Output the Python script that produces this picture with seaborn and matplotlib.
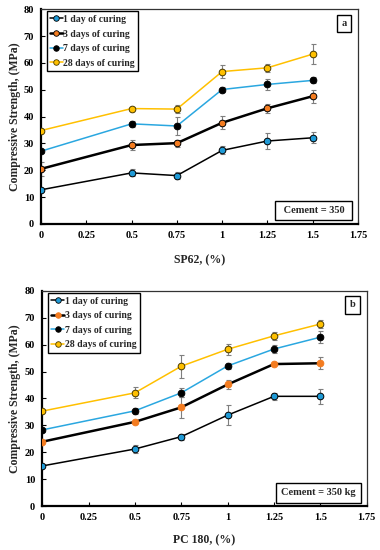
import matplotlib
matplotlib.use("Agg")
import matplotlib.pyplot as plt
import seaborn as sns
import pandas as pd
from matplotlib.lines import Line2D

# ---------------- data ----------------
dosage = [0, 0.5, 0.75, 1, 1.25, 1.5]
series_labels = ["1 day of curing", "3 days of curing", "7 days of curing", "28 days of curing"]

# panel a : SP62
a_1d = [12.7, 19.0, 18.0, 27.4, 30.9, 32.1]
a_3d = [20.5, 29.4, 30.1, 37.7, 43.1, 47.6]
a_7d = [27.1, 37.3, 36.5, 50.1, 52.0, 53.5]
a_28d = [34.8, 43.0, 42.8, 56.8, 58.2, 63.3]
a_e1 = [0.4, 1.3, 1.3, 1.5, 3.1, 2.1]
a_e3 = [2.5, 1.8, 1.3, 2.4, 1.6, 2.4]
a_e7 = [0.5, 1.2, 3.3, 1.0, 2.1, 1.1]
a_e28 = [0.5, 0.6, 1.6, 2.3, 1.5, 3.6]

# panel b : PC 180
b_1d = [14.9, 21.2, 25.8, 33.8, 40.8, 40.8]
b_3d = [23.9, 31.3, 36.7, 45.2, 52.8, 53.1]
b_7d = [28.3, 35.4, 42.1, 52.1, 58.4, 62.8]
b_28d = [35.3, 42.1, 52.0, 58.3, 63.3, 67.7]
b_e1 = [0.3, 1.5, 1.1, 3.7, 1.3, 2.7]
b_e3 = [0.3, 0.3, 3.8, 1.8, 0.5, 2.2]
b_e7 = [0.8, 1.2, 1.7, 1.0, 1.5, 2.2]
b_e28 = [0.5, 2.0, 4.3, 2.0, 1.5, 1.4]

x_ticks = [0, 0.25, 0.5, 0.75, 1, 1.25, 1.5, 1.75]
x_ticklabels = ["0", "0.25", "0.5", "0.75", "1", "1.25", "1.5", "1.75"]
y_ticks = [0, 10, 20, 30, 40, 50, 60, 70, 80]

# ---------------- style ----------------
sns.set_theme(style="white")
plt.rcParams["font.family"] = ["Liberation Serif", "DejaVu Serif"]
plt.rcParams["font.weight"] = "bold"

BLUE = "#1f9ad6"
ORANGE = "#f47c20"
YELLOW = "#ffc000"
LBLUE = "#2aa7e0"

fig = plt.figure(figsize=(3.8, 5.5), dpi=100)
ax_a = fig.add_axes([0.108, 0.593, 0.834, 0.390])
ax_b = fig.add_axes([0.111, 0.080, 0.854, 0.391])


def draw_panel(ax, vals, errs, orange_edge, xlabel, tag, note, ylab_x, xlab_y):
    styles = [
        ("black", 1.1, BLUE, "black"),
        ("black", 1.8, ORANGE, "black" if orange_edge else ORANGE),
        (LBLUE, 1.1, "black", "black"),
        (YELLOW, 1.1, YELLOW, "#4a3a00"),
    ]
    handles = []
    for (lc, lw, mf, me), v, e, lab in zip(styles, vals, errs, series_labels):
        df = pd.DataFrame({"x": dosage, "y": v})
        ax.errorbar(dosage, v, yerr=e, fmt="none", ecolor="#7f7f7f",
                    elinewidth=0.8, capsize=1.8, capthick=0.8, zorder=2)
        sns.lineplot(data=df, x="x", y="y", ax=ax, color=lc, linewidth=lw,
                     marker="o", markersize=4.8, markerfacecolor=mf,
                     markeredgecolor=me, markeredgewidth=0.7, zorder=3,
                     legend=False)
        handles.append(Line2D([], [], color=lc, linewidth=lw, marker="o",
                              markersize=4.0, markerfacecolor=mf,
                              markeredgecolor=me, markeredgewidth=0.6))
    ax.set_xlim(0, 1.75)
    ax.set_ylim(0, 80)
    ax.set_xticks(x_ticks)
    ax.set_xticklabels(x_ticklabels)
    ax.set_yticks(y_ticks)
    ax.tick_params(direction="in", length=3, width=0.8, labelsize=7.5,
                   colors="black", pad=5, left=True, bottom=True)
    for lbl in ax.get_xticklabels() + ax.get_yticklabels():
        lbl.set_fontweight("bold")
    for side in ["left", "bottom"]:
        ax.spines[side].set_linewidth(1.6)
        ax.spines[side].set_color("black")
    for side in ["top", "right"]:
        ax.spines[side].set_linewidth(0.9)
        ax.spines[side].set_color("#333333")
    ax.set_xlabel(xlabel, fontsize=8.5, fontweight="bold")
    ax.set_ylabel("Compressive Strength, (MPa)", fontsize=8.5, fontweight="bold")
    ax.yaxis.set_label_coords(ylab_x, 0.5)
    ax.xaxis.set_label_coords(0.5, xlab_y)
    leg = ax.legend(handles, series_labels, loc="upper left",
                    bbox_to_anchor=(0.018, 0.99), frameon=True, fancybox=False,
                    edgecolor="black", framealpha=1, borderpad=0.35,
                    labelspacing=0.58, handlelength=1.3, handletextpad=0.05,
                    borderaxespad=0.0,
                    prop={"family": "Liberation Serif", "weight": "bold", "size": 7})
    leg.get_frame().set_linewidth(1.0)
    ax.text(0.965, 0.935, tag, transform=ax.transAxes, ha="right", va="center",
            fontsize=7.5, fontweight="bold",
            bbox=dict(boxstyle="square,pad=0.4", fc="white", ec="black", lw=1.0))
    ax.text(0.965, 0.04, note, transform=ax.transAxes, ha="right", va="bottom",
            fontsize=7.5, fontweight="bold",
            bbox=dict(boxstyle="square,pad=0.5", fc="white", ec="black", lw=1.0))


draw_panel(ax_a, [a_1d, a_3d, a_7d, a_28d], [a_e1, a_e3, a_e7, a_e28], True,
           "SP62, (%)", "a", " Cement = 350 ", -0.063, -0.14)
draw_panel(ax_b, [b_1d, b_3d, b_7d, b_28d], [b_e1, b_e3, b_e7, b_e28], False,
           "PC 180, (%)", "b", "Cement = 350 kg", -0.065, -0.13)

fig.savefig("out.png", dpi=100)
